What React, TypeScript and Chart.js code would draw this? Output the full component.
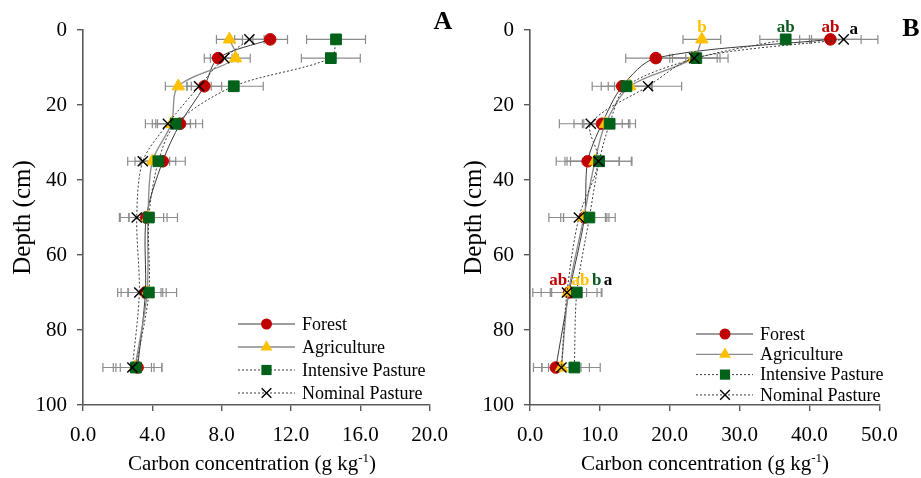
import React, { useEffect, useRef } from "react";
import { Chart, registerables } from "chart.js";

Chart.register(...registerables);

// ---------------- DATA ----------------
const depths = [2.5, 7.5, 15, 25, 35, 50, 70, 90];
const seriesNames = ["Forest", "Agriculture", "Intensive Pasture", "Nominal Pasture"];

// Panel A
const forestA = [10.8, 7.8, 7.0, 5.6, 4.6, 3.65, 3.6, 3.15];
const agricultureA = [8.45, 8.8, 5.5, 5.1, 4.0, 3.75, 3.7, 3.0];
const intensiveA = [14.6, 14.3, 8.7, 5.35, 4.35, 3.8, 3.8, 3.05];
const nominalA = [9.6, 8.15, 6.7, 4.9, 3.45, 3.1, 3.25, 2.85];

const forestErrA = [1.0, 0.8, 1.0, 1.3, 1.3, 1.0, 1.0, 1.4];
const agricultureErrA = [0.75, 0.85, 0.75, 1.1, 1.0, 1.1, 1.1, 1.1];
const intensiveErrA = [1.7, 1.7, 1.7, 1.15, 1.0, 1.65, 1.6, 0.9];
const nominalErrA = [0.85, 0.8, 0.7, 1.3, 0.87, 1.0, 1.25, 1.7];

// Panel B
const forestB = [43.0, 18.0, 13.2, 10.3, 8.25, 7.8, 5.6, 3.7];
const agricultureB = [24.6, 23.4, 14.3, 10.8, 9.3, 7.7, 5.5, 4.5];
const intensiveB = [36.6, 23.8, 13.8, 11.4, 9.9, 8.5, 6.7, 6.35];
const nominalB = [44.9, 23.5, 16.9, 8.7, 9.8, 7.0, 5.3, 4.5];

const forestErrB = [4.4, 4.3, 4.3, 4.0, 4.5, 3.0, 4.0, 2.0];
const agricultureErrB = [2.7, 3.4, 3.1, 3.3, 3.5, 3.3, 2.6, 4.0];
const intensiveErrB = [3.7, 3.4, 3.6, 3.7, 4.6, 3.7, 3.6, 3.7];
const nominalErrB = [4.9, 4.85, 4.8, 4.5, 4.8, 4.3, 4.9, 2.8];

// Significance letters (panel B), per series: at 2.5 cm and at 70 cm
const lettersTopB = ["ab", "b", "ab", "a"];
const letters70B = ["ab", "ab", "b", "a"];

const xTicksA = [0, 4, 8, 12, 16, 20];
const xTicksB = [0, 10, 20, 30, 40, 50];
const yTicks = [0, 20, 40, 60, 80, 100];

const xTitleMain = "Carbon concentration (g kg";
const xTitleSup = "-1";
const xTitleEnd = ")";
const yTitle = "Depth (cm)";

// ---------------- STYLE ----------------
const FONT = "'Liberation Serif', 'Times New Roman', serif";
const AXIS_COLOR = "#595959";
const ERR_COLOR = "#8c8c8c";

const STYLES = [
  { color: "#C00000", pointStyle: "circle", radius: 5.8, line: "#3a3a3a", dash: [] as number[], lineWidth: 1 },
  { color: "#FFC000", pointStyle: "triangle", radius: 7.2, line: "#8a8a8a", dash: [] as number[], lineWidth: 1.3 },
  { color: "#00611A", pointStyle: "rect", radius: 7.6, line: "#3a3a3a", dash: [2, 2], lineWidth: 1 },
  { color: "#000000", pointStyle: "crossRot", radius: 7.2, line: "#3a3a3a", dash: [2, 2], lineWidth: 1 },
];
const DRAW_ORDER = [3, 2, 1, 0]; // nominal on top

type LetterSpec = { texts: string[]; depthIndex: number; dx: number[]; dy: number[] };

type PanelDef = {
  key: string;
  left: number;
  width: number;
  yAxisWidth: number;
  rightPad: number;
  values: number[][];
  errors: number[][];
  xTicks: number[];
  xTitleX: number;
  yTitleX: number;
  letter: { text: string; x: number; y: number };
  legend: { x0: number; x1: number; mx: number; tx: number; y0: number; dy: number };
  sig: LetterSpec[];
};

const PANELS: PanelDef[] = [
  {
    key: "A",
    left: 0,
    width: 460,
    yAxisWidth: 83,
    rightPad: 26,
    values: [forestA, agricultureA, intensiveA, nominalA],
    errors: [forestErrA, agricultureErrA, intensiveErrA, nominalErrA],
    xTicks: xTicksA,
    xTitleX: 252,
    yTitleX: 23,
    letter: { text: "A", x: 443, y: 22 },
    legend: { x0: 238, x1: 295, mx: 266.5, tx: 302, y0: 324, dy: 23 },
    sig: [],
  },
  {
    key: "B",
    left: 460,
    width: 461,
    yAxisWidth: 70,
    rightPad: 41.7,
    values: [forestB, agricultureB, intensiveB, nominalB],
    errors: [forestErrB, agricultureErrB, intensiveErrB, nominalErrB],
    xTicks: xTicksB,
    xTitleX: 245,
    yTitleX: 14,
    letter: { text: "B", x: 451, y: 29 },
    legend: { x0: 236, x1: 293, mx: 265, tx: 300, y0: 334, dy: 20.3 },
    sig: [
      { texts: lettersTopB, depthIndex: 0, dx: [0, 0, 0, 10], dy: [-12, -12, -12, -10] },
      { texts: letters70B, depthIndex: 6, dx: [-11, 12, 20, 41], dy: [-12, -12, -12, -12] },
    ],
  },
];

function drawMarker(ctx: CanvasRenderingContext2D, style: string, x: number, y: number, r: number, color: string) {
  ctx.save();
  ctx.fillStyle = color;
  ctx.strokeStyle = color;
  ctx.lineWidth = 1;
  ctx.setLineDash([]);
  ctx.beginPath();
  if (style === "circle") {
    ctx.arc(x, y, r, 0, Math.PI * 2);
    ctx.fill();
  } else if (style === "triangle") {
    let rad = 0;
    ctx.moveTo(x + Math.sin(rad) * r, y - Math.cos(rad) * r);
    rad += (2 * Math.PI) / 3;
    ctx.lineTo(x + Math.sin(rad) * r, y - Math.cos(rad) * r);
    rad += (2 * Math.PI) / 3;
    ctx.lineTo(x + Math.sin(rad) * r, y - Math.cos(rad) * r);
    ctx.closePath();
    ctx.fill();
  } else if (style === "rect") {
    const s = Math.SQRT1_2 * r;
    ctx.rect(x - s, y - s, 2 * s, 2 * s);
    ctx.fill();
  } else {
    const s = Math.SQRT1_2 * r;
    ctx.lineWidth = 1.4;
    ctx.moveTo(x - s, y - s);
    ctx.lineTo(x + s, y + s);
    ctx.moveTo(x - s, y + s);
    ctx.lineTo(x + s, y - s);
    ctx.stroke();
  }
  ctx.restore();
}

function makeConfig(p: PanelDef): any {
  const datasets = p.values.map((vals, i) => {
    const st = STYLES[i];
    return {
      label: seriesNames[i],
      data: depths.map((d, j) => ({ x: vals[j], y: d })),
      showLine: true,
      tension: 0.3,
      borderColor: st.line,
      borderWidth: st.lineWidth,
      borderDash: st.dash,
      backgroundColor: st.color,
      pointStyle: st.pointStyle,
      pointRadius: st.radius,
      pointBackgroundColor: st.color,
      pointBorderColor: st.color,
      pointBorderWidth: st.pointStyle === "crossRot" ? 1.4 : 1,
      order: DRAW_ORDER[i],
      clip: false,
    };
  });

  const errorBars = {
    id: "errorBars" + p.key,
    beforeDatasetsDraw(chart: any) {
      const ctx = chart.ctx as CanvasRenderingContext2D;
      const xs = chart.scales.x;
      const ys = chart.scales.y;
      ctx.save();
      ctx.strokeStyle = ERR_COLOR;
      ctx.lineWidth = 1.2;
      ctx.setLineDash([]);
      p.values.forEach((vals, i) => {
        vals.forEach((v, j) => {
          const e = p.errors[i][j];
          const py = ys.getPixelForValue(depths[j]);
          const x1 = xs.getPixelForValue(v - e);
          const x2 = xs.getPixelForValue(v + e);
          ctx.beginPath();
          ctx.moveTo(x1, py);
          ctx.lineTo(x2, py);
          ctx.moveTo(x1, py - 4.5);
          ctx.lineTo(x1, py + 4.5);
          ctx.moveTo(x2, py - 4.5);
          ctx.lineTo(x2, py + 4.5);
          ctx.stroke();
        });
      });
      ctx.restore();
    },
  };

  const extras = {
    id: "extras" + p.key,
    afterDraw(chart: any) {
      const ctx = chart.ctx as CanvasRenderingContext2D;
      const area = chart.chartArea;
      const xs = chart.scales.x;
      const ys = chart.scales.y;
      ctx.save();
      ctx.fillStyle = "#000";

      // x title with superscript
      ctx.font = `21px ${FONT}`;
      const w1 = ctx.measureText(xTitleMain).width;
      const w3 = ctx.measureText(xTitleEnd).width;
      ctx.font = `13px ${FONT}`;
      const w2 = ctx.measureText(xTitleSup).width;
      const total = w1 + w2 + w3;
      let sx = p.xTitleX - total / 2;
      const baseY = 470;
      ctx.textAlign = "left";
      ctx.textBaseline = "alphabetic";
      ctx.font = `21px ${FONT}`;
      ctx.fillText(xTitleMain, sx, baseY);
      sx += w1;
      ctx.font = `13px ${FONT}`;
      ctx.fillText(xTitleSup, sx, baseY - 8);
      sx += w2;
      ctx.font = `21px ${FONT}`;
      ctx.fillText(xTitleEnd, sx, baseY);

      // y title
      ctx.save();
      ctx.translate(p.yTitleX, (area.top + area.bottom) / 2);
      ctx.rotate(-Math.PI / 2);
      ctx.font = `25px ${FONT}`;
      ctx.textAlign = "center";
      ctx.textBaseline = "middle";
      ctx.fillText(yTitle, 0, 0);
      ctx.restore();

      // panel letter
      ctx.font = `bold 26px ${FONT}`;
      ctx.textAlign = "center";
      ctx.textBaseline = "middle";
      ctx.fillText(p.letter.text, p.letter.x, p.letter.y);

      // legend
      const L = p.legend;
      seriesNames.forEach((name, i) => {
        const st = STYLES[i];
        const y = L.y0 + i * L.dy;
        ctx.save();
        ctx.strokeStyle = st.line;
        ctx.lineWidth = st.lineWidth;
        ctx.setLineDash(st.dash);
        ctx.beginPath();
        ctx.moveTo(L.x0, y);
        ctx.lineTo(L.x1, y);
        ctx.stroke();
        ctx.restore();
        drawMarker(ctx, st.pointStyle, L.mx, y, st.radius * 0.95, st.color);
        ctx.font = `18px ${FONT}`;
        ctx.textAlign = "left";
        ctx.textBaseline = "middle";
        ctx.fillStyle = "#000";
        ctx.fillText(name, L.tx, y + 1);
      });

      // significance letters
      p.sig.forEach((spec) => {
        spec.texts.forEach((t, i) => {
          const px = xs.getPixelForValue(p.values[i][spec.depthIndex]) + spec.dx[i];
          const py = ys.getPixelForValue(depths[spec.depthIndex]) + spec.dy[i];
          ctx.font = `bold 17px ${FONT}`;
          ctx.textAlign = "center";
          ctx.textBaseline = "middle";
          ctx.fillStyle = STYLES[i].color === "#00611A" ? "#0b5a1f" : STYLES[i].color;
          ctx.fillText(t, px, py);
        });
      });
      ctx.restore();
    },
  };

  return {
    type: "scatter",
    data: { datasets },
    options: {
      animation: false,
      responsive: false,
      maintainAspectRatio: false,
      devicePixelRatio: 1,
      layout: { padding: { left: 0, top: 30, right: p.rightPad, bottom: 0 } },
      plugins: { legend: { display: false }, tooltip: { enabled: false }, title: { display: false } },
      scales: {
        x: {
          type: "linear",
          position: "bottom",
          min: p.xTicks[0],
          max: p.xTicks[p.xTicks.length - 1],
          afterBuildTicks: (s: any) => {
            s.ticks = p.xTicks.map((v) => ({ value: v }));
          },
          afterFit: (s: any) => {
            s.height = 73;
          },
          ticks: {
            callback: (v: any) => Number(v).toFixed(1),
            color: "#000",
            font: { family: FONT, size: 21 },
            padding: 12,
            maxRotation: 0,
            autoSkip: false,
          },
          grid: { drawOnChartArea: false, drawTicks: true, tickLength: 6, color: AXIS_COLOR, lineWidth: 1.4 },
          border: { display: true, color: AXIS_COLOR, width: 1.6 },
        },
        y: {
          type: "linear",
          position: "left",
          reverse: true,
          min: 0,
          max: 100,
          afterBuildTicks: (s: any) => {
            s.ticks = yTicks.map((v) => ({ value: v }));
          },
          afterFit: (s: any) => {
            s.width = p.yAxisWidth;
          },
          ticks: {
            color: "#000",
            font: { family: FONT, size: 21 },
            padding: 10,
            autoSkip: false,
          },
          grid: { drawOnChartArea: false, drawTicks: true, tickLength: 6, color: AXIS_COLOR, lineWidth: 1.4 },
          border: { display: true, color: AXIS_COLOR, width: 1.6 },
        },
      },
    },
    plugins: [errorBars, extras],
  };
}

function Panel({ def }: { def: PanelDef }) {
  const ref = useRef<HTMLCanvasElement | null>(null);
  useEffect(() => {
    if (!ref.current) return;
    const chart = new Chart(ref.current, makeConfig(def));
    return () => chart.destroy();
  }, [def]);
  return (
    <canvas
      ref={ref}
      width={def.width}
      height={478}
      style={{ position: "absolute", left: def.left, top: 0, width: def.width, height: 478, display: "block" }}
    />
  );
}

export default function App() {
  return (
    <div style={{ position: "fixed", left: 0, top: 0, width: 921, height: 478, background: "#fff", overflow: "hidden" }}>
      {PANELS.map((p) => (
        <Panel key={p.key} def={p} />
      ))}
    </div>
  );
}
